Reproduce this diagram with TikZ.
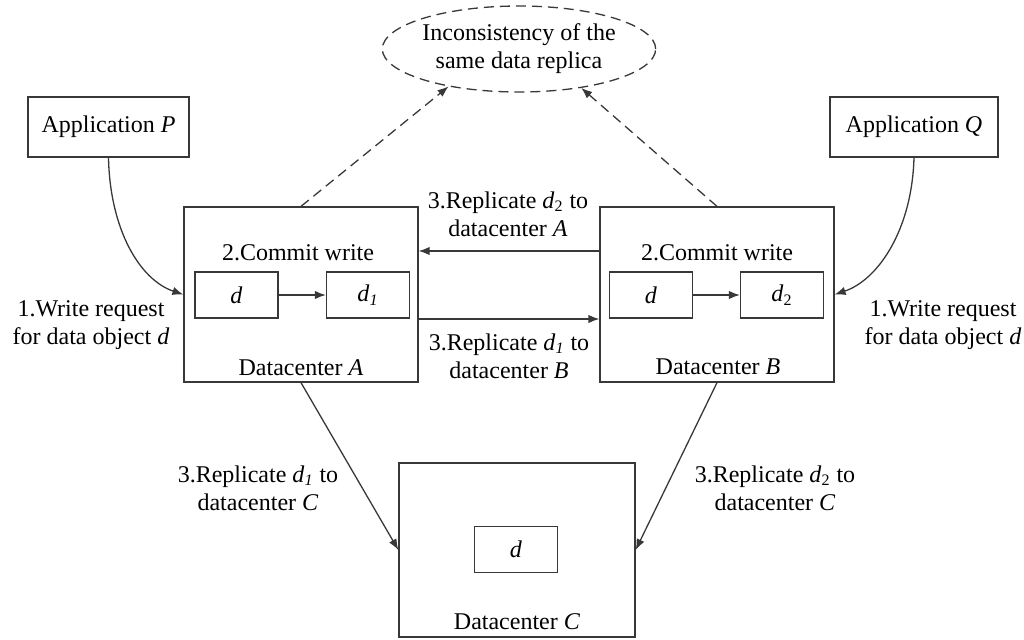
\documentclass[tikz,border=0pt]{standalone}
\usepackage{fontspec}
\setmainfont{LiberationSerif}[Extension=.ttf, UprightFont=*-Regular, ItalicFont=*-Italic,
  BoldFont=*-Bold, BoldItalicFont=*-BoldItalic]
\usetikzlibrary{arrows.meta,shapes.geometric}
\newcommand{\vi}[1]{\textit{#1}}

\begin{document}
\begin{tikzpicture}[x=0.5pt,y=-0.5pt,
  font=\rmfamily\fontsize{12}{14}\selectfont,
  line/.style={draw=black!78, line width=0.65pt},
  box/.style={line, rectangle, inner sep=0pt},
  dc/.style={box, minimum width=117pt, minimum height=87.5pt},
  item/.style={box, minimum width=41.5pt, minimum height=23pt},
  arr/.style={line, -{Latex[length=5.5pt,width=4.2pt]}},
  dasharr/.style={arr, dash pattern=on 5pt off 3pt},
  lbl/.style={align=center, inner sep=0pt},
]
\useasboundingbox (0,0) rectangle (1024,639);

% applications
\node[box, minimum width=80.5pt, minimum height=30pt] (appP) at (108.5,127) {Application \vi{P}};
\node[box, minimum width=84pt, minimum height=30pt] (appQ) at (914,127) {Application \vi{Q}};

% datacenters
\node[dc] (dcA) at (301,294.5) {};
\node[dc] (dcB) at (717,294.5) {};
\node[dc, minimum width=118pt, minimum height=87pt] (dcC) at (517,550) {};

% data objects inside the datacenters
\node[item] (dA) at (236.5,295) {\vi{d}};
\node[item] (d1) at (368,295) {\vi{d}\textsubscript{\vi{1}}};
\node[item] (dB) at (651,295) {\vi{d}};
\node[item] (d2) at (782,295) {\vi{d}\textsubscript{2}};
\node[item] (dC) at (516,549.5) {\vi{d}};

% datacenter captions
\node[lbl] (cwA) at (298,253) {2.Commit write};
\node[lbl] (cwB) at (717,253) {2.Commit write};
\node[lbl] (nA) at (301,368) {Datacenter \vi{A}};
\node[lbl] (nB) at (718,367) {Datacenter \vi{B}};
\node[lbl] (nC) at (517,622) {Datacenter \vi{C}};

% inconsistency
\node[ellipse, line, dash pattern=on 5pt off 3pt, minimum width=132pt, minimum height=43pt,
      inner sep=0pt, align=center] (inc) at (519,49) {Inconsistency of the\\same data replica};

% edge labels
\node[lbl] (lBA) at (508,214) {3.Replicate \vi{d}\textsubscript{2} to\\datacenter \vi{A}};
\node[lbl] (lAB) at (509,356) {3.Replicate \vi{d}\textsubscript{\vi{1}} to\\datacenter \vi{B}};
\node[lbl] (wP) at (91,325) {1.Write request\\for data object \vi{d}};
\node[lbl] (wQ) at (943,325) {1.Write request\\for data object \vi{d}};
\node[lbl] (lAC) at (258,488) {3.Replicate \vi{d}\textsubscript{\vi{1}} to\\datacenter \vi{C}};
\node[lbl] (lBC) at (775,488) {3.Replicate \vi{d}\textsubscript{2} to\\datacenter \vi{C}};

% connectors
\draw[arr] (appP.south) .. controls (110,230) and (140,280) .. (dcA.west);
\draw[arr] (appQ.south) .. controls (912,230) and (878,280) .. (dcB.east);
\draw[arr] ([yshift=21.75pt]dcB.west) -- ([yshift=21.75pt]dcA.east);
\draw[arr] ([yshift=-12.25pt]dcA.east) -- ([yshift=-12.25pt]dcB.west);
\draw[arr] (dA) -- (d1);
\draw[arr] (dB) -- (d2);
\draw[arr] (dcA.south) -- (dcC.west);
\draw[arr] (dcB.south) -- (dcC.east);
\draw[dasharr] (dcA.north) -- (inc.208);
\draw[dasharr] (dcB.north) -- (inc.-32);
\end{tikzpicture}
\end{document}
